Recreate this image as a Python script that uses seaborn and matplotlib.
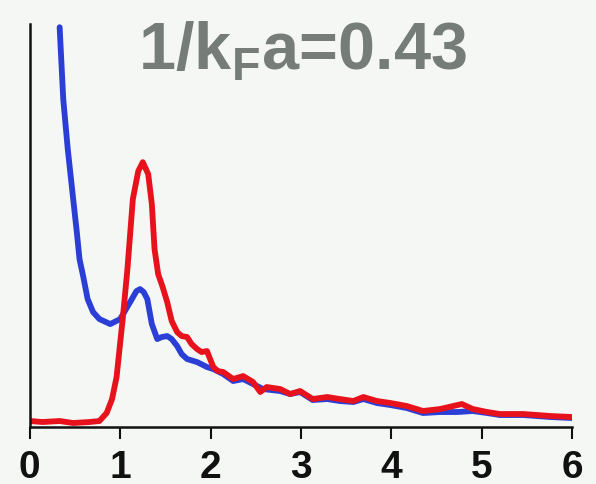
import matplotlib
matplotlib.use("Agg")
import matplotlib.pyplot as plt
import seaborn as sns
import pandas as pd

# Red curve
red_x = [0.00, 0.14, 0.33, 0.48, 0.66, 0.77, 0.85, 0.91, 0.96, 1.03, 1.08, 1.14, 1.20, 1.25,
         1.31, 1.35, 1.38, 1.42, 1.47, 1.52, 1.57, 1.63, 1.68, 1.74, 1.79, 1.85, 1.90, 1.96,
         2.03, 2.08, 2.14, 2.25, 2.36, 2.47, 2.55, 2.62, 2.77, 2.88, 2.99, 3.13, 3.29, 3.43,
         3.58, 3.69, 3.84, 3.99, 4.17, 4.35, 4.54, 4.78, 4.90, 5.06, 5.20, 5.46, 5.76, 6.00]
red_y = [0.06, 0.05, 0.06, 0.04, 0.05, 0.06, 0.14, 0.28, 0.50, 1.10, 1.58, 2.28, 2.56, 2.65,
         2.53, 2.23, 1.78, 1.53, 1.40, 1.25, 1.06, 0.95, 0.91, 0.90, 0.83, 0.78, 0.75, 0.76,
         0.60, 0.56, 0.55, 0.48, 0.51, 0.45, 0.35, 0.40, 0.38, 0.33, 0.36, 0.28, 0.30, 0.28,
         0.26, 0.30, 0.26, 0.24, 0.21, 0.16, 0.18, 0.23, 0.18, 0.15, 0.13, 0.13, 0.11, 0.10]

# Blue curve
blue_x = [0.33, 0.37, 0.42, 0.48, 0.52, 0.55, 0.59, 0.64, 0.70, 0.77, 0.89, 1.00, 1.11, 1.18,
          1.22, 1.26, 1.30, 1.35, 1.41, 1.46, 1.52, 1.57, 1.63, 1.68, 1.74, 1.85, 1.96, 2.03,
          2.14, 2.25, 2.36, 2.47, 2.58, 2.77, 2.88, 2.99, 3.13, 3.29, 3.43, 3.58, 3.69, 3.84,
          3.99, 4.17, 4.35, 4.54, 4.73, 4.90, 5.06, 5.20, 5.46, 5.76, 6.00]
blue_y = [4.00, 3.28, 2.78, 2.28, 1.95, 1.68, 1.51, 1.28, 1.15, 1.08, 1.03, 1.08, 1.25, 1.36,
          1.38, 1.35, 1.28, 1.03, 0.88, 0.90, 0.91, 0.88, 0.81, 0.73, 0.68, 0.65, 0.60, 0.58,
          0.53, 0.46, 0.48, 0.43, 0.38, 0.36, 0.33, 0.35, 0.27, 0.28, 0.26, 0.25, 0.28, 0.24,
          0.22, 0.19, 0.14, 0.15, 0.15, 0.16, 0.14, 0.12, 0.12, 0.10, 0.09]

xticks = [0, 1, 2, 3, 4, 5, 6]
title = r"1/k$_\mathregular{F}$a=0.43"

sns.set_style("ticks")
bg = "#f5f7f5"
fig = plt.figure(figsize=(5.96, 4.85), dpi=100, facecolor=bg)
ax = fig.add_axes([0.050, 0.1175, 0.910, 0.8305])
ax.set_facecolor(bg)

df_b = pd.DataFrame({"x": blue_x, "y": blue_y})
df_r = pd.DataFrame({"x": red_x, "y": red_y})
sns.lineplot(data=df_b, x="x", y="y", ax=ax, color="#2b3fd6", linewidth=4.2, sort=False)
sns.lineplot(data=df_r, x="x", y="y", ax=ax, color="#e8121c", linewidth=4.2, sort=False)
for ln in ax.lines:
    ln.set_solid_joinstyle("round")
    ln.set_solid_capstyle("round")

ax.set_xlim(0, 6)
ax.set_ylim(0, 4.03)
ax.set_xticks(xticks)
ax.set_xticklabels([str(t) for t in xticks], fontsize=28, fontweight="bold",
                   family=["Liberation Sans", "DejaVu Sans"])
ax.set_yticks([])
ax.set_xlabel("")
ax.set_ylabel("")
for s in ["top", "right"]:
    ax.spines[s].set_visible(False)
for s in ["left", "bottom"]:
    ax.spines[s].set_linewidth(1.8)
    ax.spines[s].set_color("#111111")
ax.tick_params(axis="x", direction="out", length=8.5, width=1.5, pad=7, colors="#111111")
ax.margins(0)

fig.text(0.508, 0.855, title, ha="center", va="baseline", fontsize=48,
         fontweight="bold", color="#767c78",
         family=["Liberation Sans", "DejaVu Sans"])

fig.savefig("out.png", dpi=100, facecolor=bg)
